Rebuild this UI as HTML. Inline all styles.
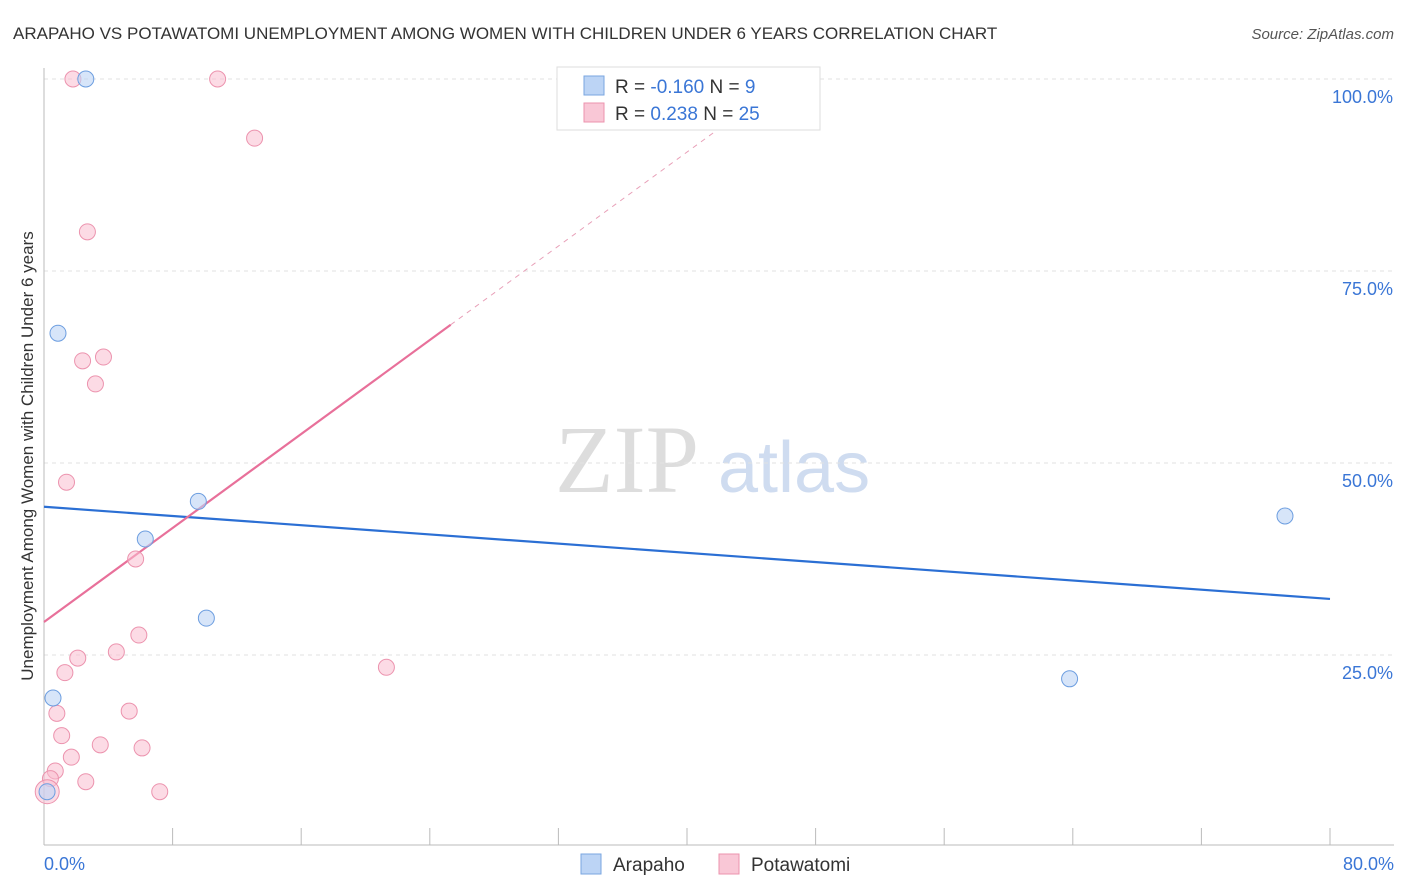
<!DOCTYPE html>
<html><head><meta charset="utf-8"><style>
body{margin:0;background:#fff;font-family:"Liberation Sans",sans-serif;}
svg{display:block}
</style></head><body>
<svg width="1406" height="892" id="chart">
<text x="13" y="39" font-size="17" fill="#333">ARAPAHO VS POTAWATOMI UNEMPLOYMENT AMONG WOMEN WITH CHILDREN UNDER 6 YEARS CORRELATION CHART</text>
<text x="1394" y="39" font-size="15" fill="#555" font-style="italic" text-anchor="end">Source: ZipAtlas.com</text>
<text x="33" y="456" font-size="17" fill="#333" text-anchor="middle" transform="rotate(-90 33 456)">Unemployment Among Women with Children Under 6 years</text>
<text x="555" y="492" font-size="96" fill="#ddd" font-family="Liberation Serif">ZIP</text>
<text x="718" y="492" font-size="72" fill="#cfdcf0">atlas</text>
<g id="grid"></g><g id="lines"></g><g id="pts"></g>
<g>
<rect x="557" y="67" width="263" height="63" fill="#fff" stroke="#ddd"/>
<rect x="584" y="76" width="20" height="19" fill="#bcd4f5" stroke="#7aa6e0"/>
<rect x="584" y="103" width="20" height="19" fill="#f9c7d6" stroke="#ec93ae"/>
<text x="615" y="93" font-size="19" fill="#333">R = <tspan fill="#3a76d6">-0.160</tspan>   N =  <tspan fill="#3a76d6"> 9</tspan></text>
<text x="615" y="120" font-size="19" fill="#333">R =  <tspan fill="#3a76d6">0.238</tspan>   N = <tspan fill="#3a76d6">25</tspan></text>
</g>
<g>
<rect x="581" y="854" width="20" height="20" fill="#bcd4f5" stroke="#7aa6e0"/>
<text x="613" y="871" font-size="19" fill="#333">Arapaho</text>
<rect x="719" y="854" width="20" height="20" fill="#f9c7d6" stroke="#ec93ae"/>
<text x="751" y="871" font-size="19" fill="#333">Potawatomi</text>
</g>
</svg>
<script>
const yTicks=[25,50,75,100];
const yTickLabels=["25.0%","50.0%","75.0%","100.0%"];
const arapahoX=[2.6,0.87,9.6,6.3,10.1,0.56,0.19,77.2,63.8];
const arapahoY=[100,66.9,45.0,40.1,29.8,19.4,7.2,43.1,21.9];
const potaX=[1.8,10.8,13.1,2.7,2.4,3.7,3.2,1.4,5.7,5.9,2.1,4.5,1.3,21.3,0.8,5.3,1.1,3.5,6.1,1.7,0.7,2.6,0.4,7.2,0.2];
const potaY=[100,100,92.3,80.1,63.3,63.8,60.3,47.5,37.5,27.6,24.6,25.4,22.7,23.4,17.4,17.7,14.5,13.3,12.9,11.7,9.9,8.5,8.9,7.2,7.2];
const blueTrend=[44.3,32.3];
const pinkTrend=[29.3,68.0];
const pinkSolidEnd=25.3;
const NS="http://www.w3.org/2000/svg";
const sx=v=>44+v/80*1286, sy=v=>847-v/100*768;
function mk(t,a,p){const e=document.createElementNS(NS,t);for(const k in a)e.setAttribute(k,a[k]);document.getElementById(p).appendChild(e);return e;}
yTicks.forEach((t,i)=>{
 const g=mk('line',{x1:44,x2:1394,y1:sy(t),y2:sy(t),stroke:'#e2e2e2','stroke-dasharray':'4 4'},'grid');
 
 
 const l=mk('text',{x:1393,y:sy(t)+24,'font-size':18,fill:'#3a76d6','text-anchor':'end'},'grid');
 l.textContent=yTickLabels[i];
 
 
});
const ax=mk('line',{x1:44,x2:1394,y1:845,y2:845,stroke:'#bbb'},'grid');


const ay=mk('line',{x1:44,x2:44,y1:68,y2:845,stroke:'#bbb'},'grid');


for(let i=0;i<=10;i++){const t=mk('line',{x1:sx(i*8),x2:sx(i*8),y1:828,y2:845,stroke:'#bbb'},'grid');
 
 }
[["0.0%",44,'start'],["80.0%",1394,'end']].forEach(a=>{const t=mk('text',{x:a[1],y:870,'font-size':18,fill:'#3a76d6','text-anchor':a[2]},'grid');t.textContent=a[0];
 
 });
const bl=mk('line',{x1:sx(0),y1:sy(blueTrend[0]),x2:sx(80),y2:sy(blueTrend[1]),stroke:'#2b6fd4','stroke-width':2.2},'lines');


const slope=(pinkTrend[1]-pinkTrend[0])/pinkSolidEnd;
const pl=mk('line',{x1:sx(0),y1:sy(pinkTrend[0]),x2:sx(pinkSolidEnd),y2:sy(pinkTrend[1]),stroke:'#e8709a','stroke-width':2.2},'lines');


const xe=(100-pinkTrend[0])/slope;
const pd=mk('line',{x1:sx(pinkSolidEnd),y1:sy(pinkTrend[1]),x2:sx(xe),y2:sy(100),stroke:'#e8a0b8','stroke-width':1,'stroke-dasharray':'5 5'},'lines');


potaX.forEach((x,i)=>{const c=mk('circle',{cx:sx(x),cy:sy(potaY[i]),r:i==24?12:8,fill:'rgba(249,190,208,0.55)',stroke:'#ec93ae','stroke-width':1},'pts');
 
 });
arapahoX.forEach((x,i)=>{const c=mk('circle',{cx:sx(x),cy:sy(arapahoY[i]),r:8,fill:'rgba(188,212,245,0.6)',stroke:'#6d9ee0','stroke-width':1},'pts');
 
 });
</script>
</body></html>
